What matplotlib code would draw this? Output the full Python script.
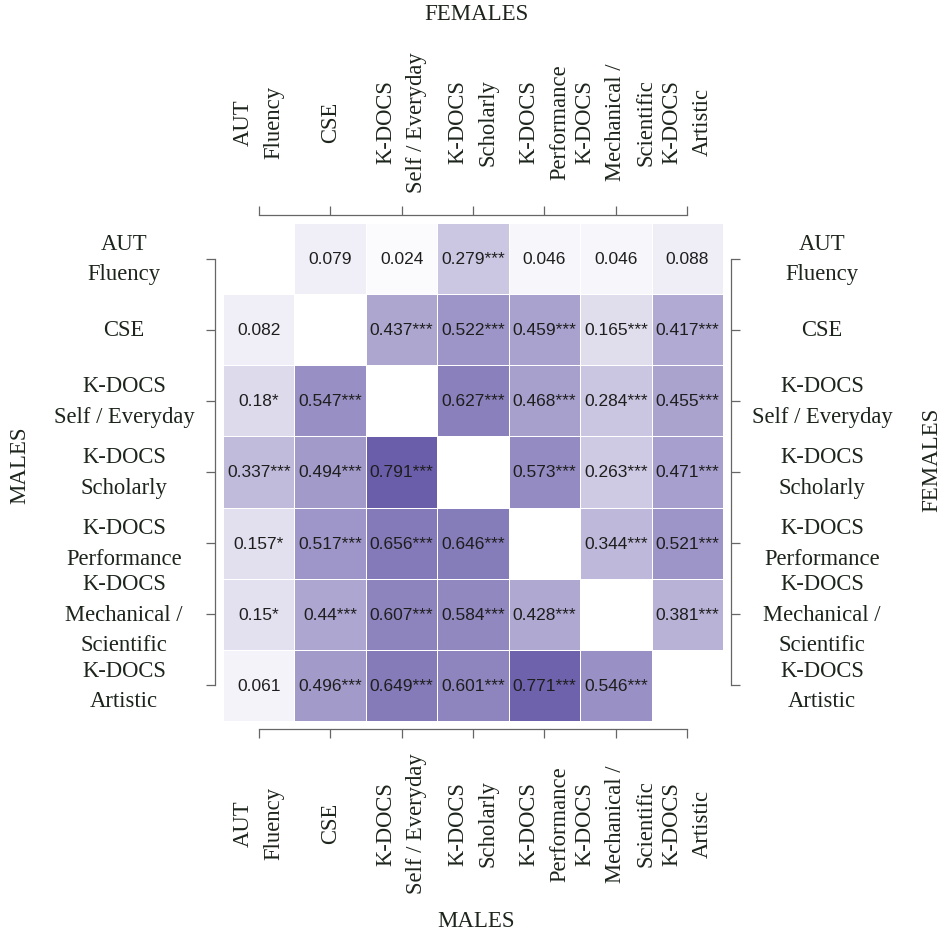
import matplotlib
matplotlib.use("Agg")
import matplotlib.pyplot as plt
import numpy as np
from matplotlib.colors import LinearSegmentedColormap

labels = ["AUT\nFluency", "CSE", "K-DOCS\nSelf / Everyday", "K-DOCS\nScholarly",
          "K-DOCS\nPerformance", "K-DOCS\nMechanical /\nScientific", "K-DOCS\nArtistic"]

# upper triangle (females), row by row
females = [
    ["0.079", "0.024", "0.279***", "0.046", "0.046", "0.088"],
    ["0.437***", "0.522***", "0.459***", "0.165***", "0.417***"],
    ["0.627***", "0.468***", "0.284***", "0.455***"],
    ["0.573***", "0.263***", "0.471***"],
    ["0.344***", "0.521***"],
    ["0.381***"],
]
# lower triangle (males), row by row
males = [
    ["0.082"],
    ["0.18*", "0.547***"],
    ["0.337***", "0.494***", "0.791***"],
    ["0.157*", "0.517***", "0.656***", "0.646***"],
    ["0.15*", "0.44***", "0.607***", "0.584***", "0.428***"],
    ["0.061", "0.496***", "0.649***", "0.601***", "0.771***", "0.546***"],
]

n = len(labels)
vals = np.full((n, n), np.nan)
txt = [["" for _ in range(n)] for _ in range(n)]
for i, row in enumerate(females):
    for k, s in enumerate(row):
        j = i + 1 + k
        vals[i, j] = float(s.rstrip("*"))
        txt[i][j] = s
for i, row in enumerate(males):
    for j, s in enumerate(row):
        vals[i + 1, j] = float(s.rstrip("*"))
        txt[i + 1][j] = s

cmap = LinearSegmentedColormap.from_list("pur", ["#ffffff", "#433494"])

fig = plt.figure(figsize=(9.46, 9.37), dpi=100)
ax = fig.add_axes([223 / 946, 1 - 722 / 937, 500 / 946, 498 / 937])

xe = np.arange(n + 1) - 0.5
ax.pcolormesh(xe, xe, np.ma.masked_invalid(vals), cmap=cmap, vmin=0, vmax=1,
              edgecolors="white", linewidth=0.4)
ax.set_xlim(-0.5, n - 0.5)
ax.set_ylim(n - 0.5, -0.5)

for i in range(n):
    for j in range(n):
        if txt[i][j]:
            ax.text(j, i, txt[i][j], ha="center", va="center", fontsize=12.5,
                    family="Liberation Sans", color="#1e1e1e")

grey = "#666666"
for side in ["left", "right", "top", "bottom"]:
    ax.spines[side].set_position(("outward", 5.8))
    ax.spines[side].set_bounds(0, n - 1)
    ax.spines[side].set_color(grey)
    ax.spines[side].set_linewidth(0.9)

ax.set_xticks(range(n))
ax.set_yticks(range(n))
ax.set_xticklabels(labels)
ax.set_yticklabels(labels)
ax.tick_params(axis="both", which="both", top=True, bottom=True, left=True, right=True,
               labeltop=True, labelbottom=True, labelleft=True, labelright=True,
               length=6.5, width=0.9, color=grey, labelsize=16.3, labelcolor="#1c241c")
ax.tick_params(axis="y", pad=59)
ax.tick_params(axis="x", pad=61)

for t in ax.xaxis.get_major_ticks():
    for lab in (t.label1, t.label2):
        lab.set_rotation(90)
        lab.set_ha("center")
        lab.set_va("center")
        lab.set_family("Liberation Serif")
        lab.set_linespacing(1.6)
for t in ax.yaxis.get_major_ticks():
    for lab in (t.label1, t.label2):
        lab.set_ha("center")
        lab.set_va("center")
        lab.set_family("Liberation Serif")
        lab.set_linespacing(1.6)

tkw = dict(family="Liberation Serif", fontsize=16.5, color="#1c241c", ha="center", va="center")
fig.text(476 / 946, 1 - 15 / 937, "FEMALES", **tkw)
fig.text(476 / 946, 1 - 922 / 937, "MALES", **tkw)
fig.text(20 / 946, 1 - 465 / 937, "MALES", rotation=90, **tkw)
fig.text(932 / 946, 1 - 460 / 937, "FEMALES", rotation=90, **tkw)

fig.savefig("out.png", dpi=100)
